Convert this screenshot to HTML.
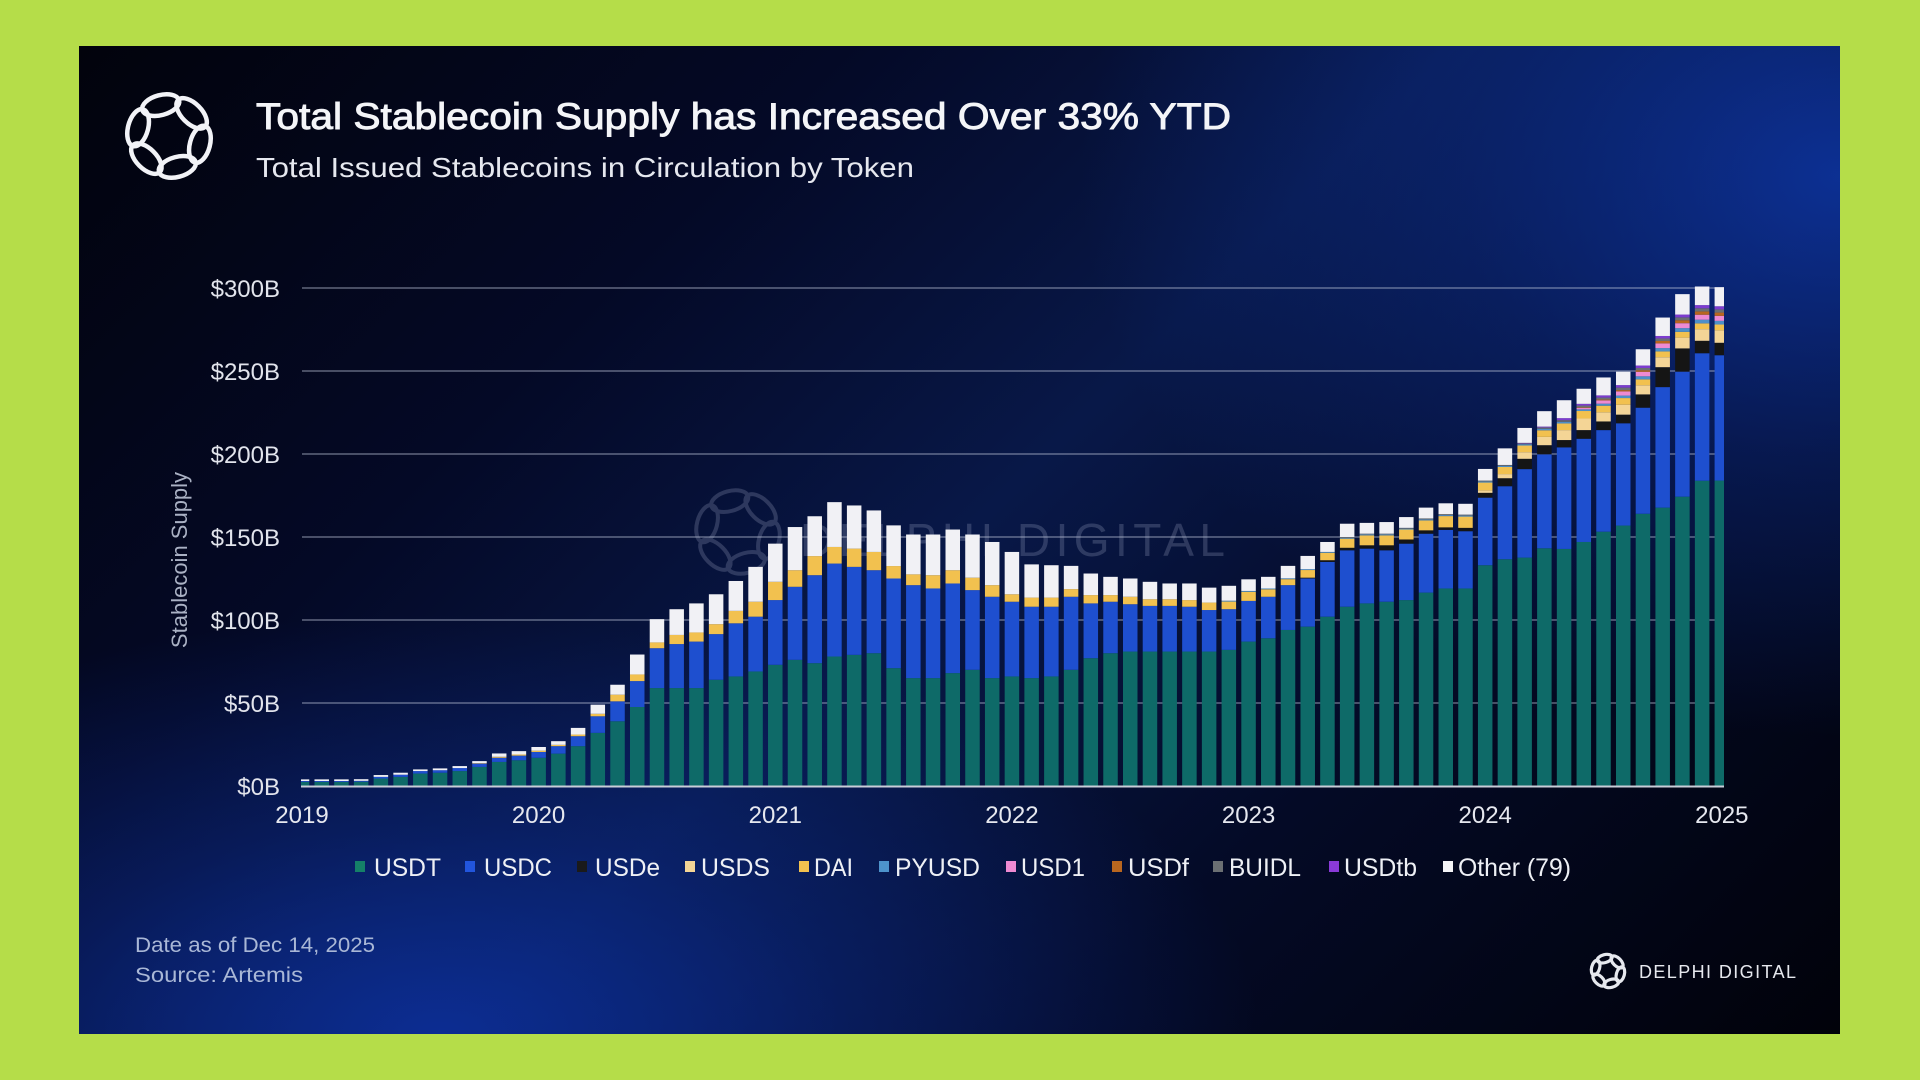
<!DOCTYPE html>
<html>
<head>
<meta charset="utf-8">
<style>
html,body{margin:0;padding:0;width:1920px;height:1080px;overflow:hidden;background:#b5dd49;}
#panel{position:absolute;left:79px;top:46px;width:1761px;height:988px;
background:
 radial-gradient(ellipse 760px 560px at 1761px 130px, rgba(14,54,165,0.85) 0%, rgba(14,54,165,0.35) 50%, rgba(14,54,165,0) 100%),
 radial-gradient(ellipse 820px 420px at 360px 988px, rgba(12,46,150,0.95) 0%, rgba(12,46,150,0.4) 50%, rgba(12,46,150,0) 100%),
 linear-gradient(135deg, #02030c 0%, #040926 28%, #081848 50%, #040a26 72%, #01020a 100%);}
svg{position:absolute;left:0;top:0;}
text{font-family:"Liberation Sans",Arial,sans-serif;}
</style>
</head>
<body>
<div id="panel"></div>
<svg id="s" width="1920" height="1080" viewBox="0 0 1920 1080" xmlns="http://www.w3.org/2000/svg">
<defs>
 <g id="logo" fill="none" stroke-linecap="round">
  <ellipse rx="19" ry="10" transform="rotate(0) translate(32 0) rotate(90)"/>
  <ellipse rx="19" ry="10" transform="rotate(60) translate(32 0) rotate(90)"/>
  <ellipse rx="19" ry="10" transform="rotate(120) translate(32 0) rotate(90)"/>
  <ellipse rx="19" ry="10" transform="rotate(180) translate(32 0) rotate(90)"/>
  <ellipse rx="19" ry="10" transform="rotate(240) translate(32 0) rotate(90)"/>
  <ellipse rx="19" ry="10" transform="rotate(300) translate(32 0) rotate(90)"/>
 </g>
</defs>

<!-- header logo -->
<use href="#logo" transform="translate(169 136) rotate(15)" stroke="#f2f3f7" stroke-width="4.5"/>

<!-- titles -->
<text x="256" y="129" font-size="37" fill="#f4f5f8" stroke="#f4f5f8" stroke-width="0.9" textLength="975" lengthAdjust="spacingAndGlyphs">Total Stablecoin Supply has Increased Over 33% YTD</text>
<text x="256" y="177" font-size="28" fill="#e6e8ef" textLength="658" lengthAdjust="spacingAndGlyphs">Total Issued Stablecoins in Circulation by Token</text>

<!-- watermark -->
<g opacity="0.22">
 <use href="#logo" transform="translate(738 532) rotate(15)" stroke="#b8c0dc" stroke-width="4"/>
 <text x="800" y="556" font-size="46" fill="#b8c0dc" textLength="425" lengthAdjust="spacing">DELPHI DIGITAL</text>
</g>

<!-- gridlines -->
<g stroke="rgba(190,197,218,0.5)" stroke-width="1.5">
 <line x1="302" x2="1724" y1="703" y2="703"/>
 <line x1="302" x2="1724" y1="620" y2="620"/>
 <line x1="302" x2="1724" y1="537" y2="537"/>
 <line x1="302" x2="1724" y1="454" y2="454"/>
 <line x1="302" x2="1724" y1="371" y2="371"/>
 <line x1="302" x2="1724" y1="288" y2="288"/>
</g>

<g id="bars"></g>

<!-- axis line -->
<line x1="301" x2="1724" y1="786.5" y2="786.5" stroke="#c9cdd8" stroke-width="2"/>

<!-- y tick labels -->
<g font-size="24" fill="#e2e4ec" text-anchor="end">
 <text x="280" y="795">$0B</text>
 <text x="280" y="712">$50B</text>
 <text x="280" y="629">$100B</text>
 <text x="280" y="546">$150B</text>
 <text x="280" y="463">$200B</text>
 <text x="280" y="380">$250B</text>
 <text x="280" y="297">$300B</text>
</g>

<!-- y axis title -->
<text transform="translate(187 560) rotate(-90)" font-size="22" fill="#aab1c4" text-anchor="middle">Stablecoin Supply</text>

<!-- x tick labels -->
<g font-size="24" fill="#e6e8ef" text-anchor="middle">
 <text x="302" y="823">2019</text>
 <text x="538.6" y="823">2020</text>
 <text x="775.3" y="823">2021</text>
 <text x="1011.9" y="823">2022</text>
 <text x="1248.6" y="823">2023</text>
 <text x="1485.2" y="823">2024</text>
 <text x="1721.8" y="823">2025</text>
</g>

<!-- legend -->
<g font-size="25" fill="#eef0f5">
 <rect x="355" y="861" width="10" height="11" fill="#158068"/>
 <text x="374" y="876" textLength="67" lengthAdjust="spacingAndGlyphs">USDT</text>
 <rect x="465" y="861" width="10" height="11" fill="#2255dd"/>
 <text x="484" y="876" textLength="68" lengthAdjust="spacingAndGlyphs">USDC</text>
 <rect x="577" y="861" width="10" height="11" fill="#1a1a1a"/>
 <text x="595" y="876" textLength="65" lengthAdjust="spacingAndGlyphs">USDe</text>
 <rect x="685" y="861" width="10" height="11" fill="#f4d596"/>
 <text x="701" y="876" textLength="69" lengthAdjust="spacingAndGlyphs">USDS</text>
 <rect x="799" y="861" width="10" height="11" fill="#f2c14f"/>
 <text x="814" y="876" textLength="39" lengthAdjust="spacingAndGlyphs">DAI</text>
 <rect x="879" y="861" width="10" height="11" fill="#4d93cc"/>
 <text x="895" y="876" textLength="85" lengthAdjust="spacingAndGlyphs">PYUSD</text>
 <rect x="1006" y="861" width="10" height="11" fill="#ee8ad2"/>
 <text x="1021" y="876" textLength="64" lengthAdjust="spacingAndGlyphs">USD1</text>
 <rect x="1112" y="861" width="10" height="11" fill="#b8661f"/>
 <text x="1128" y="876" textLength="61" lengthAdjust="spacingAndGlyphs">USDf</text>
 <rect x="1213" y="861" width="10" height="11" fill="#6b6f73"/>
 <text x="1229" y="876" textLength="72" lengthAdjust="spacingAndGlyphs">BUIDL</text>
 <rect x="1329" y="861" width="10" height="11" fill="#8a3ad8"/>
 <text x="1344" y="876" textLength="73" lengthAdjust="spacingAndGlyphs">USDtb</text>
 <rect x="1443" y="861" width="10" height="11" fill="#f5f5f7"/>
 <text x="1458" y="876" textLength="113" lengthAdjust="spacingAndGlyphs">Other (79)</text>
</g>

<!-- footer -->
<text x="135" y="952" font-size="21" fill="#a9b7d6" textLength="240" lengthAdjust="spacingAndGlyphs">Date as of Dec 14, 2025</text>
<text x="135" y="982" font-size="21" fill="#a9b7d6" textLength="168" lengthAdjust="spacingAndGlyphs">Source: Artemis</text>

<!-- bottom right brand -->
<use href="#logo" transform="translate(1608 971) rotate(15) scale(0.4)" stroke="#e6e8ee" stroke-width="8"/>
<text x="1639" y="978" font-size="18" fill="#e6e8ee" textLength="157" lengthAdjust="spacing">DELPHI DIGITAL</text>
</svg>

<script>
(function(){
var D=[
[2.5,.5,0,0,0,0,0,0,0,0,1],
[2.5,.5,0,0,0,0,0,0,0,0,1],
[2.5,.5,0,0,0,0,0,0,0,0,1],
[2.6,.5,0,0,0,0,0,0,0,0,1],
[4.5,1,0,0,0,0,0,0,0,0,1.1],
[5.5,1.3,0,0,0,0,0,0,0,0,1.2],
[7.5,1.5,0,0,0,0,0,0,0,0,1],
[8,1.5,0,0,0,0,0,0,0,0,1.1],
[9,1.8,0,0,0,0,0,0,0,0,1.2],
[11.5,2,0,0,.3,0,0,0,0,0,1.2],
[14.5,2.5,0,0,.6,0,0,0,0,0,2],
[15.5,2.8,0,0,.7,0,0,0,0,0,2],
[17,3.5,0,0,.8,0,0,0,0,0,2.2],
[19.5,4.5,0,0,.8,0,0,0,0,0,2.2],
[24,6,0,0,1,0,0,0,0,0,4],
[32,10,0,0,1.5,0,0,0,0,0,5.5],
[39,12,0,0,4,0,0,0,0,0,6],
[47.6,15.6,0,0,4,0,0,0,0,0,12],
[59,24,0,0,3.5,0,0,0,0,0,14],
[59,26.5,0,0,5.5,0,0,0,0,0,15.5],
[59,28,0,0,5.5,0,0,0,0,0,17.5],
[64,27.5,0,0,6,0,0,0,0,0,18],
[66,32,0,0,7.5,0,0,0,0,0,18],
[69,33,0,0,9,0,0,0,0,0,21],
[73,39,0,0,11,0,0,0,0,0,23],
[76,44,0,0,10,0,0,0,0,0,26],
[74,53,0,0,11.5,0,0,0,0,0,24],
[78,56,0,0,10,0,0,0,0,0,27],
[79,53,0,0,11,0,0,0,0,0,26],
[80,50,0,0,11,0,0,0,0,0,25],
[71,54,0,0,7.5,0,0,0,0,0,24.5],
[65,56,0,0,6.5,0,0,0,0,0,24],
[65,54,0,0,8,0,0,0,0,0,24.5],
[68,54,0,0,8,0,0,0,0,0,24.5],
[70,48,0,0,7.5,0,0,0,0,0,26],
[65,49,0,0,7,0,0,0,0,0,26],
[66,45,0,0,4.5,0,0,0,0,0,25.5],
[65,43,0,0,5.5,0,0,0,0,0,20],
[66,42,0,0,5.5,0,0,0,0,0,19.5],
[70,44,0,0,4.6,0,0,0,0,0,14],
[77,33,0,0,5,0,0,0,0,0,13],
[80,31,0,0,4,0,0,0,0,0,11],
[81,28.5,0,0,4.5,0,0,0,0,0,11],
[81,27.5,0,0,4,0,0,0,0,0,10.5],
[81,27.5,0,0,4,0,0,0,0,0,9.5],
[81,27,0,0,4,0,0,0,0,0,10],
[81,25,0,0,4.5,0,0,0,0,0,9],
[82,24.5,0,0,4.6,.5,0,0,0,0,9],
[87,24.5,0,0,5.5,.5,0,0,0,0,7],
[89,25,0,0,4.5,.5,0,0,0,0,7],
[94,27,0,0,3.6,.5,0,0,0,0,7.5],
[96,29,.5,0,4.6,.5,0,0,0,0,8],
[102,33,1,0,4.5,.5,0,0,0,0,6],
[108,34,1.5,0,5.5,.5,0,0,.5,0,8],
[110,33,2,0,6,.5,0,0,.5,0,6.5],
[111,31,3,0,6,.5,0,0,.5,0,7],
[112,34,2.5,0,6,.5,0,0,.5,0,6.5],
[116.5,35.5,2,0,6,.6,0,0,.6,0,6.5],
[119,35.3,1.5,0,6.8,.6,0,0,.6,0,6.5],
[119,34.5,2,0,6.8,.6,0,0,.6,0,6.5],
[133,40.7,2.9,1.5,4.7,.6,0,0,.6,0,7],
[136.6,44,4.8,2.5,4.3,.7,0,0,.5,0,10],
[137.6,53.3,6.2,4,4,.8,0,0,.5,.3,9],
[143.2,56.6,5.5,5,4,.9,0,0,.8,.5,9.3],
[142.8,61.2,4.4,6,4,1,0,0,1,1.2,10.8],
[147,62.2,5.2,7,4.5,1,.8,.3,1.2,1,9.1],
[153.2,61.2,5.2,5.5,4,1.2,2,.5,1.2,1.3,10.8],
[156.9,61.6,5.2,6,4,1.5,2.5,.8,1.5,1.5,8.1],
[164,63.9,8,5.5,3.6,1.8,2.7,1,1.3,1.5,9.8],
[167.7,72.6,12,6,3.5,2,2.8,1.5,1.5,1.5,11.1],
[174.3,75.3,14,6.5,3.5,2.2,3,1.8,1.7,1.7,12.3],
[183.9,76.8,7.5,7,3.5,2.2,3,2,1.9,1.9,11.2],
[184,75.5,7.5,7.5,3.5,2.2,3,2,1.9,1.9,11.5]
];
var C=['#0e6a68','#1e4fcf','#151515','#f4d596','#f2c14f','#4d8fc8','#ee8ad2','#b8661f','#6b6f73','#7d3ccf','#f1f1f5'];
var NS='http://www.w3.org/2000/svg';
var g=document.getElementById('bars');
for(var k=0;k<D.length;k++){
  var c=302+19.72*k;
  var x0=Math.max(301,c-7.25), x1=Math.min(1724,c+7.25);
  var y=786;
  for(var i=0;i<11;i++){
    var v=D[k][i]; if(v<=0) continue;
    var h=v*1.66; y-=h;
    var r=document.createElementNS(NS,'rect');
    r.setAttribute('x',x0.toFixed(2));
    r.setAttribute('y',y.toFixed(2));
    r.setAttribute('width',(x1-x0).toFixed(2));
    r.setAttribute('height',h.toFixed(2));
    r.setAttribute('fill',C[i]);
    g.appendChild(r);
  }
}
})();
</script>
</body>
</html>
